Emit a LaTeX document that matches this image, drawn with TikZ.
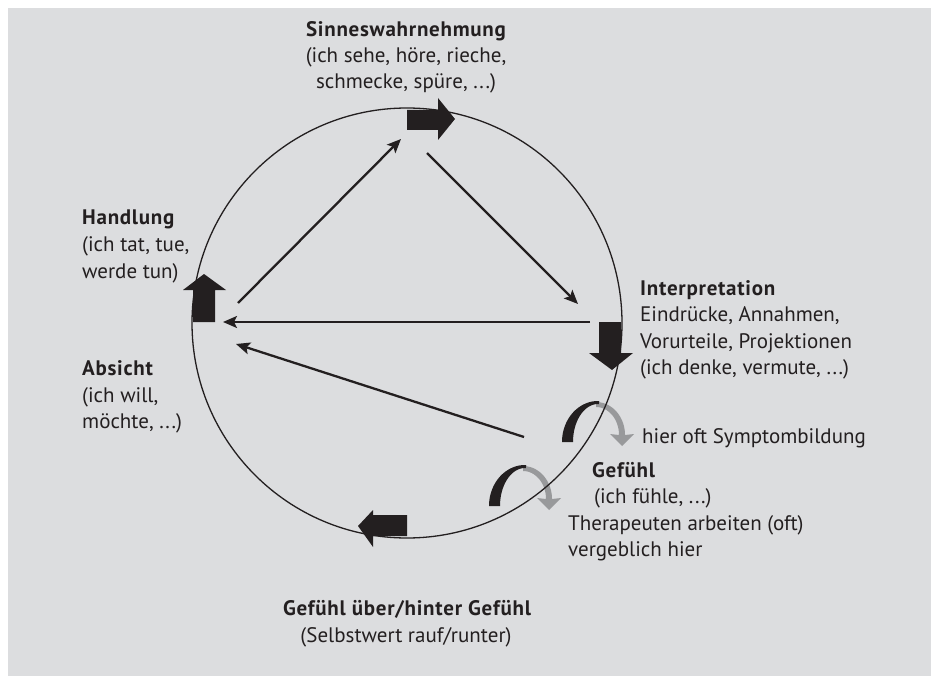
\documentclass[tikz,border=0pt]{standalone}
\usepackage{fontspec}
\setmainfont{PT Sans}[BoldFeatures={LetterSpace=3.5}]
\usetikzlibrary{arrows.meta}
\definecolor{bg}{RGB}{220,221,223}
\definecolor{ink}{RGB}{35,31,32}
\definecolor{garrow}{RGB}{152,153,155}
\newcommand\ddd{.\kern1.6pt.\kern1.6pt.}
\tikzset{
  lbl/.style={font=\fontsize{21}{24}\selectfont, text=ink, inner sep=0pt},
  hd/.style={lbl, font=\fontsize{21}{24}\selectfont\bfseries},
  conn/.style={draw=ink, line width=2.3pt, -{Stealth[length=14pt,width=12pt,inset=3pt]}},
  ring/.style={draw=ink, line width=1.3pt},
  block/.style={fill=ink},
}
\newcommand\curvedarrow[2]{%
  \begin{scope}[shift={(#1,#2)}]
    \fill[garrow] plot[domain=90:0,samples=30] ({596+29*cos(\x)},{435-33*sin(\x)})
      -- (634,434) -- (622,446) -- (610,434)
      -- plot[domain=0:90,samples=30] ({596+23*cos(\x)},{435-28*sin(\x)}) -- cycle;
    \fill[ink] plot[domain=180:88,samples=40] ({598+36*cos(\x)},{442-41*sin(\x)})
      -- plot[domain=88:180,samples=40] ({598+25*cos(\x)},{442-38*sin(\x)}) -- cycle;
  \end{scope}}
\begin{document}
\begin{tikzpicture}[x=1pt,y=-1pt]
\useasboundingbox (0,0) rectangle (931,676);
\fill[white] (0,0) rectangle (931,676);
\fill[bg] (8,8) rectangle (931,676);

% curved arrows
\curvedarrow{0}{0}
\curvedarrow{-73}{64}

% circle
\draw[ring] (407,323) circle[radius=215pt];

% block arrows
\fill[block] (407,110) -- (438,110) -- (438,98) -- (455,119) -- (438,140) -- (438,130) -- (407,130) -- cycle;
\fill[block] (193,322) -- (193,290) -- (183,290) -- (204,274) -- (226,290) -- (215,290) -- (215,322) -- cycle;
\fill[block] (599,322) -- (621,322) -- (621,353) -- (633,353) -- (612,370) -- (589,353) -- (599,353) -- cycle;
\fill[block] (407,515) -- (373,515) -- (373,510) -- (358,526) -- (373,547) -- (373,536) -- (407,536) -- cycle;

% connector end points
\coordinate (a1) at (238,303);
\coordinate (a2) at (401,139);
\coordinate (b1) at (427,153);
\coordinate (b2) at (578,304);
\coordinate (c1) at (590,322);
\coordinate (c2) at (223,322);
\coordinate (d1) at (524,437);
\coordinate (d2) at (236,344);
\draw[conn] (a1) -- (a2);
\draw[conn] (b1) -- (b2);
\draw[conn] (c1) -- (c2);
\draw[conn] (d1) -- (d2);

% texts
\node[hd, anchor=base] (s1) at (406,37) {Sinneswahrnehmung};
\node[lbl, anchor=base] (s2) at (406,63) {(ich sehe, höre, rieche,};
\node[lbl, anchor=base] (s3) at (406,89) {schmecke, spüre, \ddd)};

\node[hd, anchor=base west] (h1) at (82,225) {Handlung};
\node[lbl, anchor=base west] (h2) at (82,252) {(ich tat, tue,};
\node[lbl, anchor=base west] (h3) at (82,278) {werde tun)};

\node[hd, anchor=base west] (ab1) at (82,375) {Absicht};
\node[lbl, anchor=base west] (ab2) at (82,402) {(ich will,};
\node[lbl, anchor=base west] (ab3) at (82,428) {möchte, \ddd)};

\node[hd, anchor=base west] (i1) at (640,295) {Interpretation};
\node[lbl, anchor=base west] (i2) at (640,321) {Eindrücke, Annahmen,};
\node[lbl, anchor=base west] (i3) at (640,348) {Vorurteile, Projektionen};
\node[lbl, anchor=base west] (i4) at (640,374) {(ich denke, vermute, \ddd)};

\node[lbl, anchor=base west] (sy) at (642,443) {hier oft Symptombildung};

\node[hd, anchor=base west] (g1) at (592,477) {Gefühl};
\node[lbl, anchor=base west] (g2) at (594,503) {(ich fühle, \ddd)};

\node[lbl, anchor=base west] (t1) at (568,530) {Therapeuten arbeiten (oft)};
\node[lbl, anchor=base west] (t2) at (568,556) {vergeblich hier};

\node[hd, anchor=base] (u1) at (407,615) {Gefühl über/hinter Gefühl};
\node[lbl, anchor=base] (u2) at (406,642) {(Selbstwert rauf/runter)};
\end{tikzpicture}
\end{document}
